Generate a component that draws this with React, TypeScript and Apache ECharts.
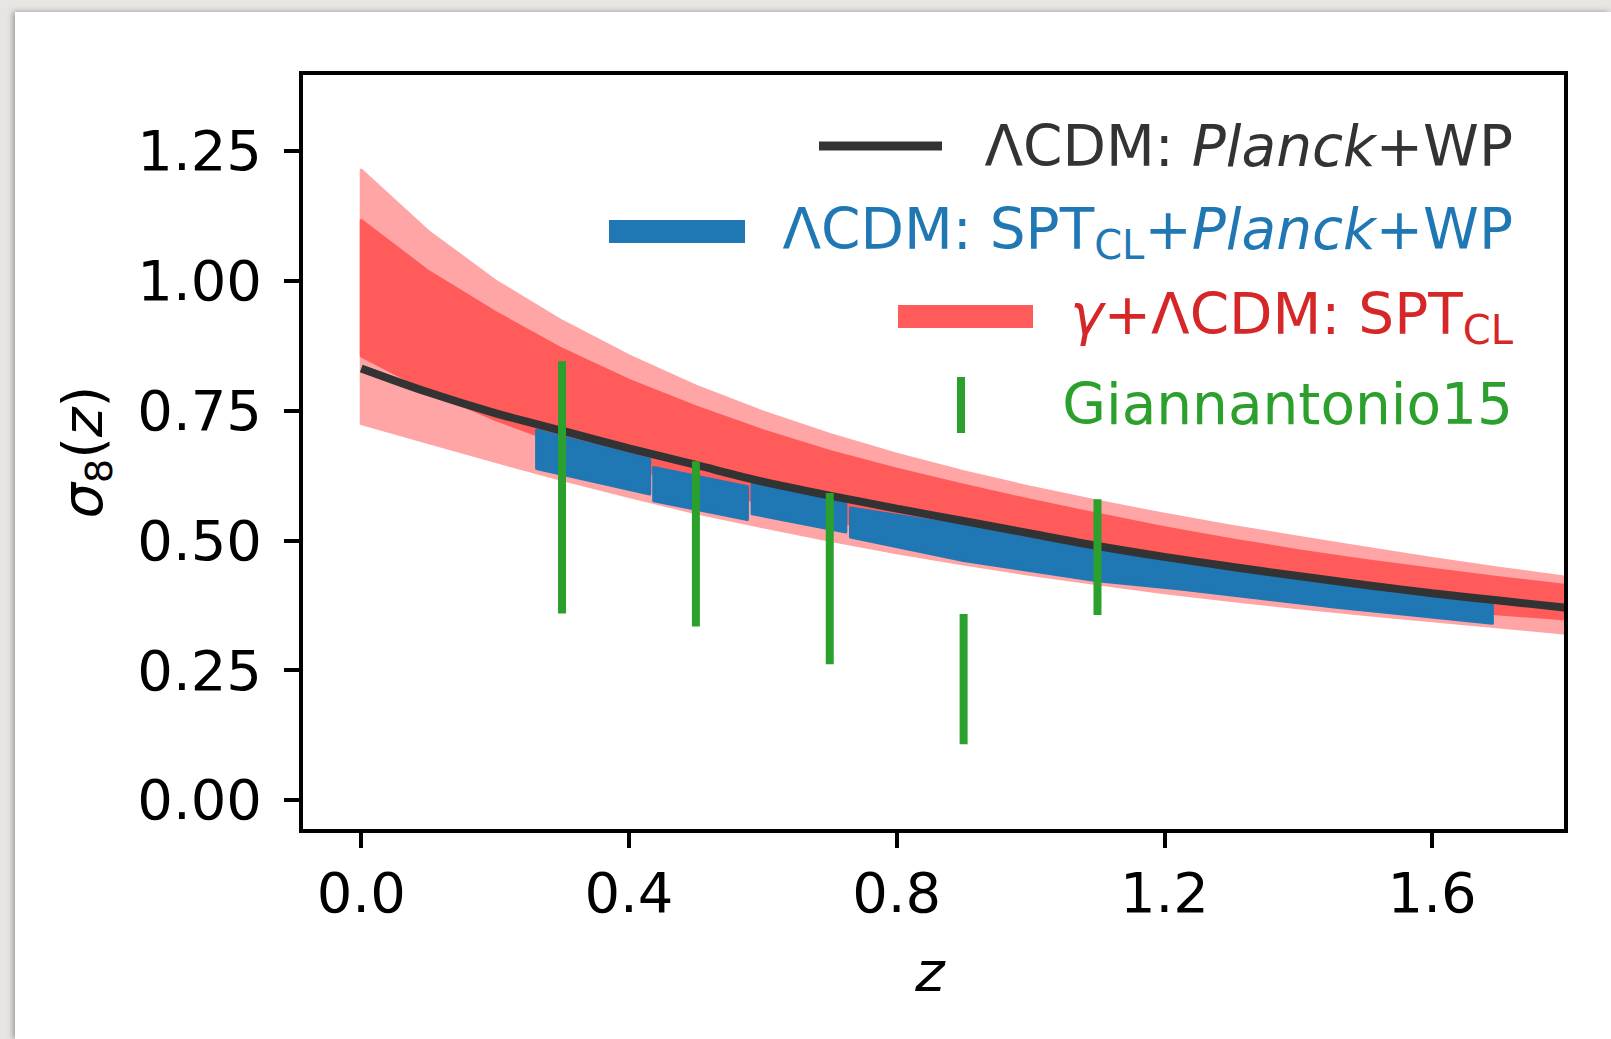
import React, { useEffect, useRef } from "react";
import * as echarts from "echarts";

// ---------- data ----------
const zGrid = [0, 0.1, 0.2, 0.3, 0.4, 0.5, 0.6, 0.7, 0.8, 0.9, 1.0, 1.1, 1.2, 1.3, 1.4, 1.5, 1.6, 1.7, 1.8];
const planckWP = [0.831, 0.785, 0.745, 0.711, 0.677, 0.645, 0.613, 0.586, 0.561, 0.537, 0.513, 0.489, 0.468, 0.449, 0.431, 0.414, 0.398, 0.384, 0.370];
const gammaOuterUpper = [1.213, 1.095, 1.0, 0.922, 0.855, 0.797, 0.747, 0.704, 0.666, 0.632, 0.602, 0.575, 0.55, 0.527, 0.506, 0.485, 0.465, 0.446, 0.429];
const gammaOuterLower = [0.725, 0.688, 0.652, 0.617, 0.584, 0.553, 0.526, 0.5, 0.476, 0.454, 0.434, 0.416, 0.399, 0.384, 0.37, 0.357, 0.345, 0.333, 0.321];
const gammaInnerUpper = [1.116, 1.018, 0.939, 0.868, 0.808, 0.757, 0.711, 0.671, 0.637, 0.606, 0.577, 0.55, 0.524, 0.501, 0.48, 0.461, 0.444, 0.428, 0.413];
const gammaInnerLower = [0.855, 0.788, 0.733, 0.685, 0.643, 0.605, 0.571, 0.54, 0.512, 0.488, 0.466, 0.446, 0.428, 0.412, 0.397, 0.383, 0.37, 0.358, 0.3485];

const sptZ1 = [0.262, 0.431];
const sptLo1 = [0.638, 0.589];
const sptHi1 = [0.712, 0.656];
const sptZ2 = [0.437, 0.577];
const sptLo2 = [0.576, 0.54];
const sptHi2 = [0.64, 0.603];
const sptZ3 = [0.584, 0.724];
const sptLo3 = [0.551, 0.516];
const sptHi3 = [0.609, 0.572];
const sptZ4 = [0.731, 0.9, 1.1, 1.224, 1.45, 1.69];
const sptLo4 = [0.506, 0.461, 0.422, 0.406, 0.372, 0.34];
const sptHi4 = [0.562, 0.528, 0.48, 0.458, 0.418, 0.381];

const giaZ = [0.3, 0.5, 0.7, 0.9, 1.1];
const giaLow = [0.359, 0.334, 0.261, 0.107, 0.356];
const giaHigh = [0.845, 0.652, 0.591, 0.358, 0.579];

const xTicks = [0, 0.4, 0.8, 1.2, 1.6];
const yTicks = [0, 0.25, 0.5, 0.75, 1.0, 1.25];

const FONT = "DejaVu Sans";

function bandSeries(name: string, zs: number[], lo: number[], hi: number[], color: string, z: number) {
  return {
    type: "custom",
    name,
    z,
    silent: true,
    data: zs.map((v, i) => [v, lo[i], hi[i]]),
    encode: { x: 0, y: [1, 2] },
    renderItem: (params: any, api: any) => {
      if (params.dataIndex !== 0) return null;
      const pts: number[][] = [];
      for (let i = 0; i < zs.length; i++) pts.push(api.coord([zs[i], hi[i]]));
      for (let i = zs.length - 1; i >= 0; i--) pts.push(api.coord([zs[i], lo[i]]));
      return {
        type: "polygon",
        shape: { points: pts },
        style: { fill: color, stroke: color, lineWidth: 3, lineJoin: "round" },
      };
    },
  };
}

export default function App() {
  const ref = useRef<HTMLDivElement>(null);
  useEffect(() => {
    if (!ref.current) return;
    const chart = echarts.init(ref.current, undefined, { renderer: "svg" });
    const light = "#ffa5a5";
    const dark = "#ff5b5b";
    const blue = "#1f77b4";
    const green = "#2ca02c";
    const FS = 56.5;
    const nStyle = (c: string) => ({ fontFamily: FONT, fontSize: FS, fill: c, color: c, lineHeight: 72, verticalAlign: "middle" });
    const iStyle = (c: string) => ({ fontFamily: FONT, fontSize: FS, fill: c, color: c, fontStyle: "italic", lineHeight: 72, verticalAlign: "middle" });
    const sStyle = (c: string) => ({ fontFamily: FONT, fontSize: 40, fill: c, color: c, lineHeight: 72, verticalAlign: "bottom" });
    const rows = [
      { y: 146, text: "{n|ΛCDM: }{i|Planck}{n|+WP}", color: "#333333" },
      { y: 229, text: "{n|ΛCDM: SPT}{s|CL}{n|+}{i|Planck}{n|+WP}", color: blue },
      { y: 314, text: "{i|γ}{n|+ΛCDM: SPT}{s|CL}", color: "#d62728" },
      { y: 404, text: "{n|Giannantonio15}", color: green },
    ];
    const legendTexts = rows.map((r) => ({
      type: "text",
      x: 1513,
      y: r.y,
      z: 100,
      style: {
        text: r.text,
        fill: r.color,
        align: "right",
        verticalAlign: "middle",
        rich: { n: nStyle(r.color), i: iStyle(r.color), s: sStyle(r.color) },
      },
    }));
    const option: any = {
      animation: false,
      backgroundColor: "transparent",
      grid: {
        left: 301,
        top: 73,
        right: 45,
        bottom: 208,
        show: true,
        borderColor: "#000",
        borderWidth: 4,
        backgroundColor: "transparent",
        z: 10,
      },
      xAxis: {
        type: "value",
        min: -0.09,
        max: 1.8,
        axisLine: { show: false, onZero: false },
        splitLine: { show: false },
        axisTick: { show: true, inside: false, length: 17, customValues: xTicks, lineStyle: { color: "#000", width: 4 } },
        axisLabel: {
          customValues: xTicks,
          formatter: (v: number) => v.toFixed(1),
          fontFamily: FONT,
          fontSize: 56,
          color: "#000",
          margin: 33,
        },
      },
      yAxis: {
        type: "value",
        min: -0.06,
        max: 1.4,
        axisLine: { show: false, onZero: false },
        splitLine: { show: false },
        axisTick: { show: true, inside: false, length: 17, customValues: yTicks, lineStyle: { color: "#000", width: 4 } },
        axisLabel: {
          customValues: yTicks,
          formatter: (v: number) => v.toFixed(2),
          fontFamily: FONT,
          fontSize: 56,
          color: "#000",
          margin: 39,
        },
      },
      series: [
        bandSeries("γ+ΛCDM 95%", zGrid, gammaOuterLower, gammaOuterUpper, light, 1),
        bandSeries("γ+ΛCDM 68%", zGrid, gammaInnerLower, gammaInnerUpper, dark, 2),
        bandSeries("SPT bin 1", sptZ1, sptLo1, sptHi1, blue, 3),
        bandSeries("SPT bin 2", sptZ2, sptLo2, sptHi2, blue, 3),
        bandSeries("SPT bin 3", sptZ3, sptLo3, sptHi3, blue, 3),
        bandSeries("SPT bin 4", sptZ4, sptLo4, sptHi4, blue, 3),
        {
          type: "line",
          name: "ΛCDM: Planck+WP",
          z: 4,
          data: zGrid.map((v, i) => [v, planckWP[i]]),
          smooth: 0.3,
          showSymbol: false,
          lineStyle: { color: "#333333", width: 8 },
          silent: true,
        },
        {
          type: "custom",
          name: "Giannantonio15",
          z: 5,
          silent: true,
          data: giaZ.map((v, i) => [v, giaLow[i], giaHigh[i]]),
          encode: { x: 0, y: [1, 2] },
          renderItem: (params: any, api: any) => {
            const p0 = api.coord([api.value(0), api.value(1)]);
            const p1 = api.coord([api.value(0), api.value(2)]);
            return {
              type: "line",
              shape: { x1: p0[0], y1: p0[1], x2: p1[0], y2: p1[1] },
              style: { stroke: green, lineWidth: 8, lineCap: "butt" },
            };
          },
        },
      ],
      graphic: [
        { type: "rect", z: 100, shape: { x: 819, y: 141.5, width: 123, height: 9 }, style: { fill: "#333333" } },
        { type: "rect", z: 100, shape: { x: 609, y: 220, width: 136, height: 23 }, style: { fill: blue } },
        { type: "rect", z: 100, shape: { x: 898, y: 305, width: 135, height: 23 }, style: { fill: dark } },
        { type: "rect", z: 100, shape: { x: 957, y: 377, width: 8, height: 56 }, style: { fill: green } },
        ...legendTexts,
        {
          type: "text",
          x: 930,
          y: 971,
          z: 100,
          style: { text: "z", fontFamily: FONT, fontSize: 56, fontStyle: "italic", fill: "#000", align: "center", verticalAlign: "middle" },
        },
        {
          type: "text",
          x: 82,
          y: 452,
          z: 100,
          rotation: Math.PI / 2,
          style: {
            text: "{i|σ}{s|8}{n|(}{i|z}{n|)}",
            align: "center",
            verticalAlign: "middle",
            rich: {
              n: { fontFamily: FONT, fontSize: 56, fill: "#000", lineHeight: 72, verticalAlign: "middle" },
              i: { fontFamily: FONT, fontSize: 56, fill: "#000", fontStyle: "italic", lineHeight: 72, verticalAlign: "middle" },
              s: { fontFamily: FONT, fontSize: 38, fill: "#000", lineHeight: 72, verticalAlign: "bottom" },
            },
          },
        },
      ],
    };
    chart.setOption(option);
    return () => chart.dispose();
  }, []);

  return (
    <div style={{ position: "fixed", left: 0, top: 0, width: 1611, height: 1039, background: "#e7e6e3", overflow: "hidden" }}>
      <div
        style={{
          position: "absolute",
          left: 15,
          top: 12,
          right: 0,
          bottom: 0,
          background: "#ffffff",
          boxShadow: "-2px 0 6px rgba(0,0,0,0.35)",
        }}
      />
      <div ref={ref} style={{ position: "absolute", left: 0, top: 0, width: 1611, height: 1039 }} />
    </div>
  );
}
